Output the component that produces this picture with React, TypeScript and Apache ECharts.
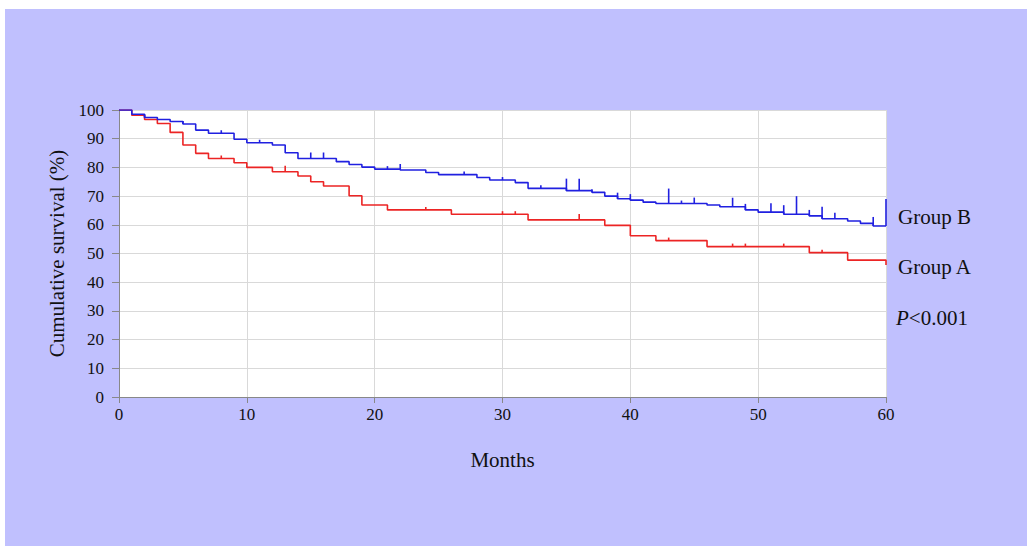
import React, { useEffect, useRef } from "react";
import * as echarts from "echarts";

// Kaplan-Meier step data: [month, cumulative survival %]
const groupBSteps: number[][] = [
  [0, 100], [1, 98.5], [2, 97.4], [3, 96.7], [4, 96.0], [5, 95.1], [6, 93.0], [7, 91.9],
  [9, 89.8], [10, 88.6], [12, 87.8], [13, 85.1], [14, 83.1], [17, 82.0], [18, 81.0],
  [19, 80.1], [20, 79.4], [22, 79.1], [24, 78.2], [25, 77.5], [28, 76.5], [29, 75.6],
  [31, 74.7], [32, 72.7], [35, 71.9], [37, 71.3], [38, 70.0], [39, 69.1], [40, 68.6],
  [41, 67.9], [42, 67.4], [46, 66.9], [47, 66.3], [49, 65.2], [50, 64.4], [52, 63.7],
  [54, 63.1], [55, 62.1], [57, 61.3], [58, 60.5], [59, 59.6], [60, 59.6],
];
const groupASteps: number[][] = [
  [0, 100], [1, 98.2], [2, 96.7], [3, 95.3], [4, 92.2], [5, 87.8], [6, 84.9], [7, 83.1],
  [9, 81.6], [10, 80.0], [12, 78.5], [14, 77.0], [15, 75.0], [16, 73.5], [18, 70.1],
  [19, 66.9], [21, 65.2], [26, 63.7], [32, 61.7], [38, 59.8], [40, 56.2], [42, 54.5],
  [46, 52.4], [54, 50.3], [57, 47.7], [60, 46.0],
];
// Censored observations: [month, number censored]
const groupBCensored: number[][] = [
  [2, 1], [5, 1], [8, 1], [11, 1], [15, 2], [16, 2], [21, 1], [22, 2], [27, 1], [30, 1],
  [33, 1], [35, 4], [36, 4], [37, 1], [39, 2], [40, 2], [43, 5], [44, 1], [45, 2], [48, 3],
  [49, 2], [51, 3], [52, 3], [53, 6], [54, 2], [55, 4], [56, 2], [59, 3], [60, 9],
];
const groupACensored: number[][] = [
  [8, 1], [13, 2], [24, 1], [30, 1], [31, 1], [36, 2], [43, 1], [48, 1], [49, 1], [52, 1], [55, 1],
];
const xTicks = [0, 10, 20, 30, 40, 50, 60];
const yTicks = [0, 10, 20, 30, 40, 50, 60, 70, 80, 90, 100];

const BLUE = "#2020e0";
const RED = "#ec2424";
const FONT = "'Liberation Serif', 'Times New Roman', serif";

function survivalAt(steps: number[][], t: number): number {
  let v = steps[0][1];
  for (const s of steps) if (s[0] <= t) v = s[1];
  return v;
}

function censorData(steps: number[][], cens: number[][]) {
  return cens.map((c) => [c[0], survivalAt(steps, c[0]), c[1]]);
}

function censorSeries(name: string, steps: number[][], cens: number[][], color: string) {
  return {
    type: "custom",
    name,
    data: censorData(steps, cens),
    z: 3,
    renderItem: (_params: any, api: any) => {
      const p = api.coord([api.value(0), api.value(1)]);
      const n = api.value(2);
      return {
        type: "line",
        shape: { x1: p[0], y1: p[1], x2: p[0], y2: p[1] - n * 3 },
        style: { stroke: color, lineWidth: 1.6 },
      };
    },
  };
}

export default function App() {
  const ref = useRef<HTMLDivElement>(null);
  useEffect(() => {
    if (!ref.current) return;
    const chart = echarts.init(ref.current, null, { renderer: "svg" });
    chart.setOption({
      animation: false,
      backgroundColor: "#ffffff",
      graphic: [
        {
          type: "rect",
          z: -10,
          silent: true,
          shape: { x: 5, y: 9, width: 1022, height: 537 },
          style: { fill: "#c0c0fe" },
        },
        {
          type: "text",
          left: 898,
          top: 206,
          style: { text: "Group B", font: `21px ${FONT}`, fill: "#111" },
        },
        {
          type: "text",
          left: 898,
          top: 256,
          style: { text: "Group A", font: `21px ${FONT}`, fill: "#111" },
        },
        {
          type: "text",
          left: 896,
          top: 307,
          style: {
            text: "{i|P}{n|<0.001}",
            rich: {
              i: { fontFamily: FONT, fontSize: 21, fontStyle: "italic", fill: "#111" },
              n: { fontFamily: FONT, fontSize: 21, fill: "#111" },
            },
          },
        },
      ],
      grid: {
        left: 119,
        top: 110,
        width: 767,
        height: 287,
        show: true,
        backgroundColor: "#ffffff",
        borderWidth: 0,
      },
      xAxis: {
        type: "value",
        min: 0,
        max: 60,
        interval: 10,
        name: "Months",
        nameLocation: "middle",
        nameGap: 52,
        nameTextStyle: { fontFamily: FONT, fontSize: 21, color: "#111" },
        axisLine: { show: true, lineStyle: { color: "#888", width: 1 } },
        axisTick: { show: true, length: 6, lineStyle: { color: "#888" } },
        axisLabel: {
          fontFamily: FONT,
          fontSize: 17,
          color: "#111",
          margin: 9,
          formatter: (v: number) => (xTicks.includes(v) ? String(v) : ""),
        },
        splitLine: { show: true, lineStyle: { color: "#d9d9d9", width: 1 } },
      },
      yAxis: {
        type: "value",
        min: 0,
        max: 100,
        interval: 10,
        name: "Cumulative survival (%)",
        nameLocation: "middle",
        nameGap: 52,
        nameRotate: 90,
        nameTextStyle: { fontFamily: FONT, fontSize: 21, color: "#111" },
        axisLine: { show: true, lineStyle: { color: "#888", width: 1 } },
        axisTick: { show: true, length: 7, lineStyle: { color: "#888" } },
        axisLabel: {
          fontFamily: FONT,
          fontSize: 17,
          color: "#111",
          margin: 15,
          formatter: (v: number) => (yTicks.includes(v) ? String(v) : ""),
        },
        splitLine: { show: true, lineStyle: { color: "#d9d9d9", width: 1 } },
      },
      series: [
        {
          type: "line",
          name: "Group A",
          step: "end",
          data: groupASteps,
          showSymbol: false,
          lineStyle: { color: RED, width: 1.6 },
          itemStyle: { color: RED },
          z: 2,
        },
        {
          type: "line",
          name: "Group B",
          step: "end",
          data: groupBSteps,
          showSymbol: false,
          lineStyle: { color: BLUE, width: 1.6 },
          itemStyle: { color: BLUE },
          z: 2,
        },
        censorSeries("Group A censored", groupASteps, groupACensored, RED),
        censorSeries("Group B censored", groupBSteps, groupBCensored, BLUE),
      ],
    });
    return () => chart.dispose();
  }, []);
  return (
    <div style={{ position: "fixed", left: 0, top: 0, width: 1027, height: 546, background: "#fff" }}>
      <div ref={ref} style={{ width: 1027, height: 546 }} />
    </div>
  );
}
